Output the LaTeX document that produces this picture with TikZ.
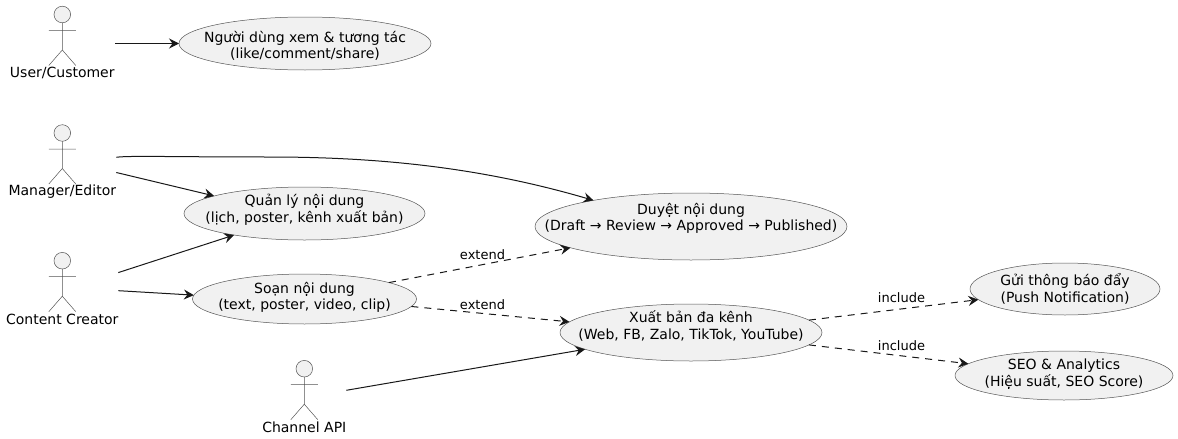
\documentclass[tikz,border=0pt]{standalone}
\usepackage{fontspec}
\setmainfont{DejaVu Sans}
\usetikzlibrary{arrows.meta,shapes.geometric}
\definecolor{ink}{HTML}{181818}
\definecolor{thinink}{HTML}{555555}
\definecolor{paper}{HTML}{F1F1F1}
\tikzset{
  x=1pt,y=-1pt,
  usecase/.style={ellipse,draw=thinink,line width=0.5pt,fill=paper,inner sep=0pt,outer sep=0pt,font=\fontsize{14}{16.3}\selectfont},
  actorbox/.style={rectangle,inner sep=0pt,outer sep=0pt,minimum height=74pt},
  actorline/.style={draw=thinink,line width=0.5pt},
  actorlabel/.style={inner sep=0pt,outer sep=0pt,font=\fontsize{14}{16.3}\selectfont},
  link/.style={draw=ink,line width=1pt,-{Stealth[length=10pt,width=10pt,inset=3.5pt]}},
  dashlink/.style={link,dash pattern=on 7pt off 6pt},
  edgetext/.style={inner sep=0pt,outer sep=0pt,font=\fontsize{13}{15}\selectfont},
}
% vertical shift (positive = down), then two centred lines that do not widen the ellipse
\newcommand{\twolines}[3]{\smash{\makebox[0pt]{\raisebox{\dimexpr-2.5pt-#1pt\relax}{\begin{tabular}[c]{@{}c@{}}#2\\#3\end{tabular}}}}}
% name, head x, head y, box width, label
\newcommand{\stickactor}[5]{%
  \node[actorbox,minimum width=#4pt] (#1) at (#2,#3+29) {};
  \node[actorlabel] (#1label) at (#2,#3+58.5) {#5};
  \draw[actorline,fill=paper] (#2,#3) circle[radius=8.3pt];
  \draw[actorline] (#2,#3+8.3) -- (#2,#3+35.5)
     (#2-13.5,#3+16) -- (#2+13.5,#3+16)
     (#2-13.5,#3+51) -- (#2,#3+35.5) -- (#2+13.5,#3+51);
}
\begin{document}
\begin{tikzpicture}
\useasboundingbox (0,0) rectangle (1178,439);
\stickactor{user}{62.3}{14.5}{106}{User/Customer}
\stickactor{mgr}{62.3}{133}{108}{Manager/Editor}
\stickactor{creator}{62.3}{260.7}{112}{Content Creator}
\stickactor{api}{304.3}{368.7}{84}{Channel API}

\node[usecase,minimum width=252pt,minimum height=53pt] (watch) at (305,43.5) {\twolines{5}{Người dùng xem \& tương tác}{(like/comment/share)}};
\node[usecase,minimum width=241pt,minimum height=53pt] (manage) at (304.5,213.5) {\twolines{-1.5}{Quản lý nội dung}{(lịch, poster, kênh xuất bản)}};
\node[usecase,minimum width=224pt,minimum height=50pt] (compose) at (304.5,299) {\twolines{0}{Soạn nội dung}{(text, poster, video, clip)}};
\node[usecase,minimum width=312pt,minimum height=67pt] (review) at (691,226.5) {\twolines{-6}{Duyệt nội dung}{(Draft → Review → Approved → Published)}};
\node[usecase,minimum width=262pt,minimum height=57pt] (publish) at (691,332.5) {\twolines{-4}{Xuất bản đa kênh}{(Web, FB, Zalo, TikTok, YouTube)}};
\node[usecase,minimum width=190pt,minimum height=52pt] (push) at (1065,289) {\twolines{2.5}{Gửi thông báo đẩy}{(Push Notification)}};
\node[usecase,minimum width=218pt,minimum height=49pt] (seo) at (1064,375.5) {\twolines{0}{SEO \& Analytics}{(Hiệu suất, SEO Score)}};

\draw[link] (user.east) -- (watch.west);
\draw[link] (mgr.5.3) .. controls (130,155.5) and (170,157) .. (270,157) .. controls (390,157) and (490,170) .. (review.165.7);
\draw[link] (mgr.-11.5) -- (manage.169.3);
\draw[link] (creator.17.5) -- (manage.197);
\draw[link] (creator.-1.3) -- (compose.178.2);
\draw[link] (api.10.4) -- (publish.189.6);
\draw[dashlink] (compose.11.1) -- (review.190.3);
\draw[dashlink] (compose.-4.9) -- (publish.175.4);
\draw[dashlink] (publish.6.6) -- (push.187.1);
\draw[dashlink] (publish.-6.4) -- (seo.173.2);
\node[edgetext] (ext1) at (482.5,255) {extend};
\node[edgetext] (ext2) at (482.5,304.5) {extend};
\node[edgetext] (inc1) at (901.5,297.5) {include};
\node[edgetext] (inc2) at (901.5,345.5) {include};
\end{tikzpicture}
\end{document}
